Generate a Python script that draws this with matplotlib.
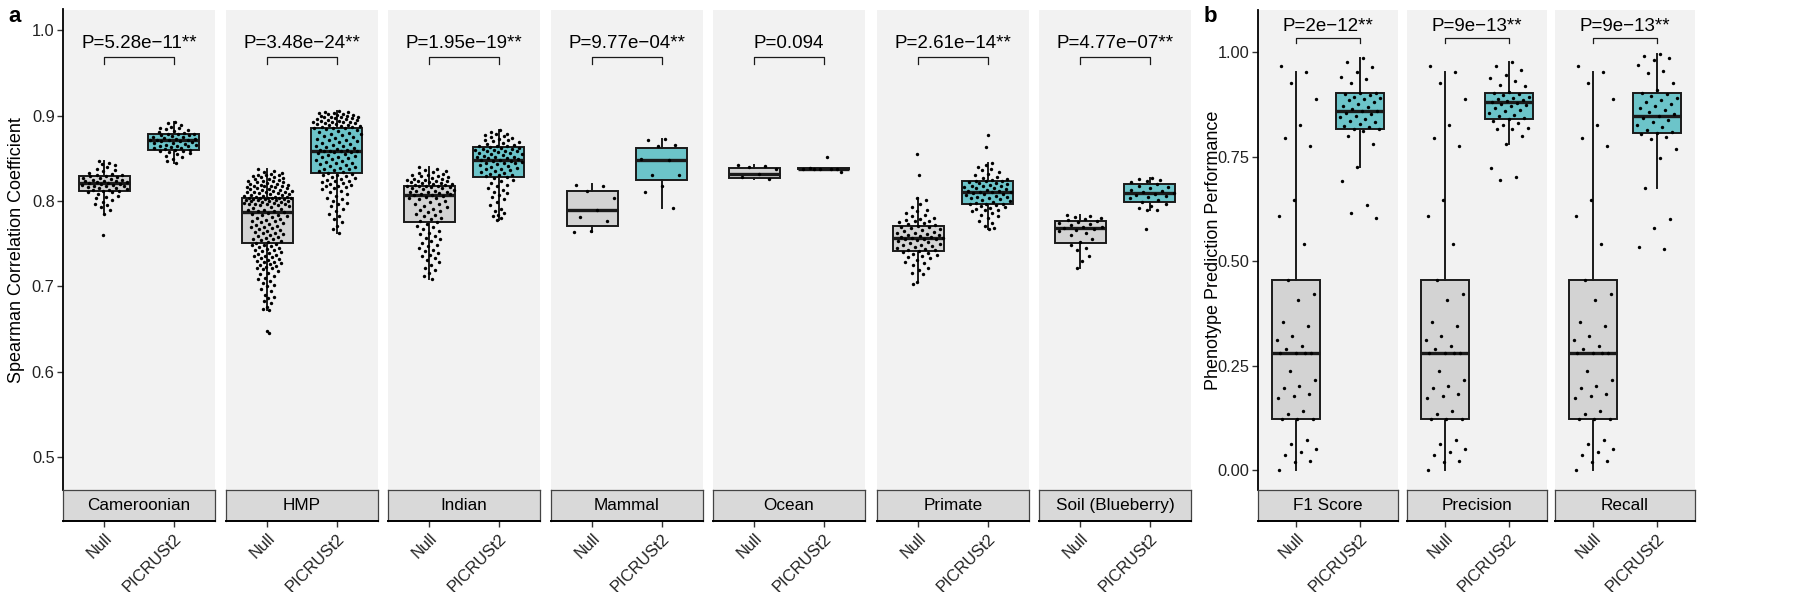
import matplotlib
matplotlib.use('Agg')
import matplotlib.pyplot as plt
import numpy as np

plt.rcParams['font.family'] = ['Liberation Sans', 'DejaVu Sans']

# ---- panel a data: Spearman correlation per dataset ----
a_facets = ['Cameroonian', 'HMP', 'Indian', 'Mammal', 'Ocean', 'Primate', 'Soil (Blueberry)']
a_pvals = ['P=5.28e\u221211**', 'P=3.48e\u221224**', 'P=1.95e\u221219**', 'P=9.77e\u221204**',
           'P=0.094', 'P=2.61e\u221214**', 'P=4.77e\u221207**']

# box stats: (q1, median, q3, whisker low, whisker high)
a_box_null = [(0.812, 0.821, 0.829, 0.785, 0.847),
              (0.751, 0.787, 0.804, 0.672, 0.837),
              (0.775, 0.807, 0.818, 0.709, 0.840),
              (0.771, 0.790, 0.812, 0.764, 0.820),
              (0.827, 0.832, 0.839, 0.826, 0.842),
              (0.741, 0.757, 0.771, 0.705, 0.804),
              (0.751, 0.768, 0.776, 0.722, 0.783)]
a_box_pic = [(0.860, 0.871, 0.879, 0.845, 0.893),
             (0.833, 0.859, 0.886, 0.763, 0.905),
             (0.828, 0.848, 0.863, 0.778, 0.883),
             (0.825, 0.848, 0.862, 0.792, 0.873),
             (0.8375, 0.838, 0.8385, 0.836, 0.839),
             (0.797, 0.811, 0.823, 0.767, 0.845),
             (0.799, 0.809, 0.820, 0.789, 0.827)]

cam_null = [0.847, 0.845, 0.843, 0.842, 0.840, 0.838, 0.836, 0.835, 0.833, 0.832, 0.831, 0.830,
            0.829, 0.829, 0.828, 0.827, 0.827, 0.826, 0.825, 0.825, 0.824, 0.823, 0.823, 0.822,
            0.822, 0.821, 0.821, 0.820, 0.820, 0.819, 0.819, 0.818, 0.817, 0.817, 0.816, 0.815,
            0.815, 0.814, 0.813, 0.813, 0.812, 0.812, 0.811, 0.810, 0.808, 0.806, 0.805, 0.803,
            0.801, 0.799, 0.797, 0.795, 0.793, 0.790, 0.785, 0.760]
cam_pic = [0.893, 0.891, 0.889, 0.887, 0.886, 0.885, 0.884, 0.883, 0.882, 0.881, 0.880, 0.879,
           0.879, 0.878, 0.877, 0.877, 0.876, 0.875, 0.875, 0.874, 0.873, 0.873, 0.872, 0.872,
           0.871, 0.871, 0.870, 0.870, 0.869, 0.868, 0.868, 0.867, 0.866, 0.866, 0.865, 0.864,
           0.864, 0.863, 0.862, 0.862, 0.861, 0.860, 0.860, 0.859, 0.858, 0.857, 0.856, 0.855,
           0.853, 0.851, 0.849, 0.847, 0.845]
hmp_null = [0.837, 0.835, 0.834, 0.833, 0.832, 0.831, 0.830, 0.830, 0.829, 0.828, 0.828, 0.827,
            0.826, 0.826, 0.825, 0.824, 0.824, 0.823, 0.822, 0.822, 0.821, 0.820, 0.820, 0.819,
            0.819, 0.818, 0.818, 0.817, 0.817, 0.816, 0.816, 0.815, 0.815, 0.814, 0.814, 0.813,
            0.813, 0.812, 0.812, 0.811, 0.811, 0.810, 0.810, 0.809, 0.809, 0.808, 0.808, 0.807,
            0.807, 0.806, 0.806, 0.805, 0.805, 0.805, 0.804, 0.804, 0.804, 0.803, 0.803, 0.803,
            0.802, 0.802, 0.802, 0.801, 0.801, 0.801, 0.800, 0.800, 0.800, 0.799, 0.799, 0.798,
            0.798, 0.797, 0.797, 0.796, 0.796, 0.795, 0.795, 0.794, 0.793, 0.792, 0.791, 0.790,
            0.789, 0.788, 0.788, 0.787, 0.786, 0.785, 0.784, 0.783, 0.782, 0.781, 0.780, 0.779,
            0.778, 0.777, 0.776, 0.775, 0.774, 0.773, 0.772, 0.771, 0.770, 0.769, 0.768, 0.767,
            0.766, 0.765, 0.764, 0.763, 0.762, 0.761, 0.760, 0.759, 0.758, 0.757, 0.756, 0.755,
            0.754, 0.753, 0.752, 0.751, 0.750, 0.749, 0.748, 0.747, 0.746, 0.745, 0.744, 0.743,
            0.742, 0.741, 0.740, 0.739, 0.738, 0.737, 0.736, 0.735, 0.734, 0.733, 0.732, 0.731,
            0.730, 0.729, 0.728, 0.727, 0.726, 0.725, 0.724, 0.723, 0.722, 0.721, 0.720, 0.718,
            0.716, 0.714, 0.712, 0.710, 0.708, 0.706, 0.704, 0.702, 0.700, 0.697, 0.694, 0.690,
            0.688, 0.686, 0.683, 0.680, 0.676, 0.674, 0.672, 0.648, 0.645]
hmp_pic = [0.905, 0.904, 0.904, 0.903, 0.903, 0.902, 0.902, 0.901, 0.901, 0.900, 0.900, 0.899,
           0.899, 0.898, 0.898, 0.897, 0.897, 0.896, 0.896, 0.895, 0.895, 0.894, 0.894, 0.893,
           0.893, 0.892, 0.892, 0.891, 0.891, 0.890, 0.890, 0.889, 0.889, 0.888, 0.888, 0.887,
           0.887, 0.886, 0.886, 0.885, 0.884, 0.883, 0.882, 0.881, 0.880, 0.879, 0.878, 0.877,
           0.876, 0.875, 0.874, 0.873, 0.872, 0.871, 0.870, 0.869, 0.868, 0.867, 0.866, 0.865,
           0.864, 0.863, 0.862, 0.861, 0.860, 0.860, 0.859, 0.859, 0.858, 0.858, 0.857, 0.857,
           0.856, 0.855, 0.854, 0.853, 0.852, 0.851, 0.850, 0.849, 0.848, 0.847, 0.846, 0.845,
           0.844, 0.843, 0.842, 0.841, 0.840, 0.839, 0.838, 0.837, 0.836, 0.835, 0.834, 0.833,
           0.832, 0.831, 0.830, 0.829, 0.828, 0.827, 0.826, 0.825, 0.824, 0.823, 0.822, 0.821,
           0.820, 0.819, 0.818, 0.817, 0.816, 0.815, 0.814, 0.812, 0.810, 0.808, 0.806, 0.804,
           0.802, 0.800, 0.798, 0.796, 0.794, 0.791, 0.788, 0.785, 0.782, 0.779, 0.775, 0.771,
           0.767, 0.763]
ind_null = [0.840, 0.838, 0.836, 0.835, 0.834, 0.833, 0.832, 0.831, 0.830, 0.829, 0.829, 0.828,
            0.827, 0.826, 0.826, 0.825, 0.825, 0.824, 0.823, 0.823, 0.822, 0.822, 0.821, 0.821,
            0.820, 0.820, 0.819, 0.819, 0.818, 0.818, 0.817, 0.817, 0.816, 0.816, 0.815, 0.815,
            0.814, 0.813, 0.812, 0.812, 0.811, 0.810, 0.810, 0.809, 0.808, 0.808, 0.807, 0.807,
            0.806, 0.805, 0.804, 0.803, 0.802, 0.800, 0.799, 0.797, 0.796, 0.794, 0.793, 0.791,
            0.790, 0.788, 0.787, 0.785, 0.784, 0.782, 0.780, 0.779, 0.777, 0.775, 0.773, 0.771,
            0.769, 0.767, 0.765, 0.763, 0.761, 0.759, 0.757, 0.755, 0.753, 0.751, 0.749, 0.747,
            0.745, 0.743, 0.741, 0.739, 0.737, 0.735, 0.733, 0.731, 0.728, 0.725, 0.722, 0.719,
            0.716, 0.712, 0.709]
ind_pic = [0.883, 0.881, 0.879, 0.878, 0.877, 0.876, 0.875, 0.874, 0.873, 0.872, 0.871, 0.870,
           0.869, 0.868, 0.867, 0.866, 0.865, 0.864, 0.864, 0.863, 0.862, 0.862, 0.861, 0.861,
           0.860, 0.860, 0.859, 0.858, 0.858, 0.857, 0.856, 0.856, 0.855, 0.855, 0.854, 0.853,
           0.852, 0.852, 0.851, 0.850, 0.850, 0.849, 0.848, 0.848, 0.847, 0.847, 0.846, 0.845,
           0.845, 0.844, 0.843, 0.842, 0.841, 0.840, 0.839, 0.838, 0.837, 0.836, 0.835, 0.834,
           0.833, 0.832, 0.831, 0.830, 0.829, 0.828, 0.827, 0.825, 0.823, 0.821, 0.819, 0.817,
           0.815, 0.813, 0.811, 0.809, 0.807, 0.805, 0.802, 0.799, 0.795, 0.791, 0.788, 0.786,
           0.784, 0.782, 0.780, 0.778]
mam_null = [0.819, 0.818, 0.812, 0.803, 0.790, 0.781, 0.776, 0.765, 0.764]
mam_pic = [0.873, 0.871, 0.866, 0.864, 0.849, 0.848, 0.831, 0.830, 0.818, 0.810, 0.792]
oce_null = [0.842, 0.841, 0.840, 0.838, 0.832, 0.828, 0.826]
oce_pic = [0.852, 0.839, 0.838, 0.838, 0.838, 0.838, 0.8375, 0.834]
pri_null = [0.855, 0.831, 0.804, 0.801, 0.797, 0.793, 0.790, 0.788, 0.786, 0.784, 0.782, 0.780,
            0.779, 0.778, 0.777, 0.776, 0.775, 0.774, 0.773, 0.772, 0.771, 0.770, 0.769, 0.768,
            0.767, 0.766, 0.765, 0.764, 0.763, 0.762, 0.761, 0.760, 0.760, 0.759, 0.758, 0.758,
            0.757, 0.757, 0.756, 0.755, 0.755, 0.754, 0.753, 0.752, 0.751, 0.750, 0.749, 0.748,
            0.747, 0.746, 0.745, 0.744, 0.743, 0.742, 0.741, 0.740, 0.739, 0.738, 0.737, 0.735,
            0.734, 0.733, 0.731, 0.729, 0.727, 0.725, 0.722, 0.719, 0.716, 0.714, 0.705, 0.703]
pri_pic = [0.877, 0.863, 0.845, 0.842, 0.840, 0.838, 0.836, 0.834, 0.832, 0.830, 0.828, 0.827,
           0.826, 0.825, 0.824, 0.823, 0.823, 0.822, 0.821, 0.821, 0.820, 0.819, 0.818, 0.818,
           0.817, 0.816, 0.815, 0.815, 0.814, 0.813, 0.812, 0.812, 0.811, 0.811, 0.810, 0.809,
           0.808, 0.808, 0.807, 0.806, 0.805, 0.805, 0.804, 0.803, 0.802, 0.801, 0.800, 0.799,
           0.798, 0.797, 0.797, 0.796, 0.795, 0.794, 0.793, 0.792, 0.791, 0.790, 0.789, 0.788,
           0.786, 0.784, 0.782, 0.780, 0.777, 0.774, 0.771, 0.768, 0.767]
soil_null = [0.783, 0.782, 0.781, 0.780, 0.779, 0.778, 0.776, 0.775, 0.774, 0.773, 0.772, 0.770,
             0.769, 0.768, 0.767, 0.766, 0.765, 0.763, 0.760, 0.756, 0.752, 0.748, 0.745, 0.742,
             0.735, 0.730, 0.722]
soil_pic = [0.827, 0.826, 0.825, 0.823, 0.822, 0.820, 0.818, 0.816, 0.815, 0.813, 0.812, 0.811,
            0.809, 0.808, 0.807, 0.806, 0.805, 0.803, 0.801, 0.799, 0.796, 0.794, 0.792, 0.790,
            0.789, 0.767]

a_null = [cam_null, hmp_null, ind_null, mam_null, oce_null, pri_null, soil_null]
a_pic = [cam_pic, hmp_pic, ind_pic, mam_pic, oce_pic, pri_pic, soil_pic]

# ---- panel b data: phenotype prediction ----
b_facets = ['F1 Score', 'Precision', 'Recall']
b_pvals = ['P=2e\u221212**', 'P=9e\u221213**', 'P=9e\u221213**']
b_box_null = [(0.123, 0.281, 0.456, 0.0, 0.953)] * 3
b_box_pic = [(0.817, 0.859, 0.903, 0.724, 0.985),
             (0.839, 0.880, 0.903, 0.780, 0.977),
             (0.806, 0.846, 0.903, 0.676, 0.994)]

# the null points are the same in all three facets
pheno_null = [0.966, 0.953, 0.927, 0.887, 0.826, 0.794, 0.776, 0.646, 0.608, 0.540, 0.456, 0.421,
              0.406, 0.355, 0.346, 0.321, 0.311, 0.297, 0.290, 0.281, 0.281, 0.281, 0.281, 0.238,
              0.217, 0.201, 0.197, 0.183, 0.178, 0.173, 0.143, 0.135, 0.122, 0.122, 0.122, 0.072,
              0.064, 0.052, 0.043, 0.037, 0.022, 0.019, 0.0]
f1_pic = [0.985, 0.975, 0.965, 0.952, 0.940, 0.935, 0.925, 0.903, 0.901, 0.899, 0.897, 0.893,
          0.890, 0.887, 0.884, 0.880, 0.876, 0.872, 0.868, 0.864, 0.860, 0.858, 0.855, 0.852,
          0.848, 0.844, 0.840, 0.836, 0.832, 0.828, 0.824, 0.820, 0.817, 0.815, 0.812, 0.798,
          0.780, 0.724, 0.691, 0.635, 0.615, 0.603]
prec_pic = [0.977, 0.966, 0.957, 0.946, 0.937, 0.930, 0.922, 0.918, 0.905, 0.902, 0.900, 0.897,
            0.893, 0.890, 0.887, 0.884, 0.882, 0.880, 0.878, 0.876, 0.873, 0.870, 0.866, 0.862,
            0.858, 0.854, 0.850, 0.846, 0.842, 0.839, 0.836, 0.830, 0.825, 0.818, 0.815, 0.815,
            0.800, 0.780, 0.723, 0.702, 0.695]
rec_pic = [0.994, 0.990, 0.985, 0.980, 0.970, 0.955, 0.950, 0.925, 0.910, 0.903, 0.900, 0.895,
           0.890, 0.886, 0.881, 0.876, 0.871, 0.866, 0.861, 0.856, 0.851, 0.846, 0.843, 0.838,
           0.832, 0.826, 0.820, 0.814, 0.808, 0.806, 0.803, 0.797, 0.791, 0.768, 0.746, 0.676,
           0.600, 0.580, 0.535, 0.530]

b_null = [pheno_null] * 3
b_pic = [f1_pic, prec_pic, rec_pic]

groups = ['Null', 'PICRUSt2']

# ---- styling ----
W, H = 1800, 592
GREY_BOX = '#D3D3D3'
TEAL = '#6CC4C9'
PANEL_BG = '#F2F2F2'
STRIP_BG = '#D9D9D9'
TXT = '#222222'
P_TOP, P_BOT, S_BOT = 9.5, 490, 521

fig = plt.figure(figsize=(18, 5.92), dpi=100)


def stats(b):
    q1, med, q3, lo, hi = b
    return dict(q1=q1, med=med, q3=q3, whislo=lo, whishi=hi, fliers=[])


def spread(pts, shift, by_density):
    # deterministic horizontal spread; big groups get a quasirandom-like
    # width that follows the local density of the values
    n = len(pts)
    base = ((np.arange(n) * 0.618034 + shift) % 1.0 - 0.5) * 2
    if not by_density or n < 20:
        return base * 0.32
    bw = 1.06 * pts.std() * n ** -0.2
    d = np.exp(-0.5 * ((pts[:, None] - pts[None, :]) / bw) ** 2).sum(axis=1)
    return base * 0.36 * (d / d.max()) ** 0.8


def facet(left, width, ylim, name, ptext, null_pts, pic_pts, bnull, bpic,
          bracket, first, yticks, yticklabels, by_density):
    ax = fig.add_axes([left / W, 1 - P_BOT / H, width / W, (P_BOT - P_TOP) / H])
    ax.set_facecolor(PANEL_BG)
    ax.set_xlim(0.4, 2.6)
    ax.set_ylim(*ylim)
    for s in ax.spines.values():
        s.set_visible(False)
    ax.set_xticks([])
    if first:
        ax.spines['left'].set_visible(True)
        ax.spines['left'].set_linewidth(1.3)
        ax.spines['left'].set_color('black')
        ax.set_yticks(yticks)
        ax.set_yticklabels(yticklabels, fontsize=11.8, color=TXT)
        ax.tick_params(axis='y', length=4, width=1, color='#333333', pad=2)
    else:
        ax.set_yticks([])

    bp = ax.bxp([stats(bnull), stats(bpic)], positions=[1, 2], widths=0.75,
                patch_artist=True, showfliers=False, showcaps=False,
                boxprops=dict(edgecolor='#1a1a1a', linewidth=1.4),
                whiskerprops=dict(color='#1a1a1a', linewidth=1.4),
                medianprops=dict(color='#1a1a1a', linewidth=2.4))
    bp['boxes'][0].set_facecolor(GREY_BOX)
    bp['boxes'][1].set_facecolor(TEAL)

    for pos, pts, sh in [(1, null_pts, 0.13), (2, pic_pts, 0.57)]:
        pts = np.asarray(pts, dtype=float)
        ax.scatter(pos + spread(pts, sh, by_density), pts, s=6, c='black',
                   linewidths=0, zorder=3)

    leg, top, ty = bracket
    ax.plot([1, 1, 2, 2], [leg, top, top, leg], color='#1a1a1a', lw=0.9)
    ax.text(1.5, ty, ptext, ha='center', va='center', fontsize=13.5, color='black')

    sx = fig.add_axes([left / W, 1 - S_BOT / H, width / W, (S_BOT - P_BOT) / H])
    sx.set_facecolor(STRIP_BG)
    sx.set_xlim(0.4, 2.6)
    sx.set_ylim(0, 1)
    sx.set_yticks([])
    for s in ['left', 'right', 'top']:
        sx.spines[s].set_color('#444444')
        sx.spines[s].set_linewidth(0.9)
    sx.spines['bottom'].set_color('black')
    sx.spines['bottom'].set_linewidth(1.4)
    sx.text(1.5, 0.5, name, ha='center', va='center', fontsize=12.3, color='black')
    sx.set_xticks([1, 2])
    sx.set_xticklabels(groups, rotation=45, ha='right', rotation_mode='anchor',
                       fontsize=11.8, color=TXT)
    sx.tick_params(axis='x', length=4, width=1, color='#333333', pad=3)


a_left = [63, 226, 388, 551, 713, 877, 1039]
for i, name in enumerate(a_facets):
    facet(a_left[i], 152, (0.4613, 1.0244), name, a_pvals[i], a_null[i], a_pic[i],
          a_box_null[i], a_box_pic[i], (0.960, 0.969, 0.984), i == 0,
          [0.5, 0.6, 0.7, 0.8, 0.9, 1.0], ['0.5', '0.6', '0.7', '0.8', '0.9', '1.0'], True)

b_left = [1258, 1407, 1555]
for i, name in enumerate(b_facets):
    facet(b_left[i], 140, (-0.047, 1.1015), name, b_pvals[i], b_null[i], b_pic[i],
          b_box_null[i], b_box_pic[i], (1.022, 1.033, 1.061), i == 0,
          [0, 0.25, 0.5, 0.75, 1.0], ['0.00', '0.25', '0.50', '0.75', '1.00'], False)

fig.text(17 / W, 1 - 250 / H, 'Spearman Correlation Coefficient', rotation=90,
         ha='center', va='center', fontsize=13, color='black')
fig.text(1214 / W, 1 - 250 / H, 'Phenotype Prediction Performance', rotation=90,
         ha='center', va='center', fontsize=13, color='black')
fig.text(8 / W, 1 - 17 / H, 'a', fontsize=16, fontweight='bold', va='center')
fig.text(1204 / W, 1 - 17 / H, 'b', fontsize=16, fontweight='bold', va='center')

fig.savefig('out.png', dpi=100, facecolor='white')
